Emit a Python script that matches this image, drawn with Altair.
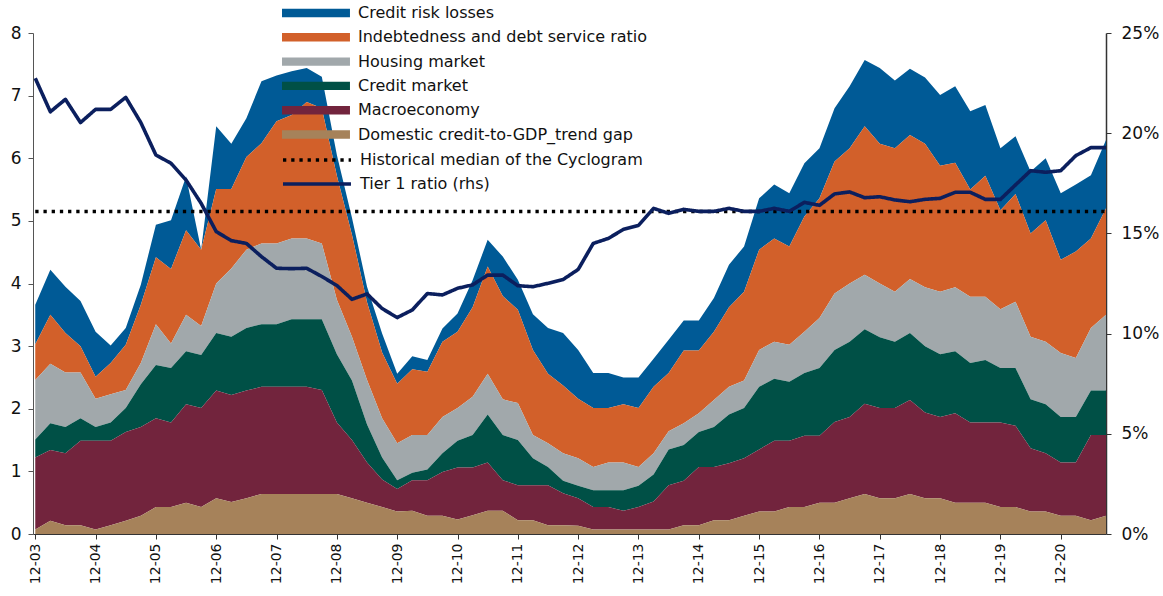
import altair as alt
import pandas as pd

# ---------------- data (quarterly, 2003Q4 .. 2021Q3) ----------------
n_q = 72
tick_labels = ["12-03", "12-04", "12-05", "12-06", "12-07", "12-08", "12-09", "12-10", "12-11",
               "12-12", "12-13", "12-14", "12-15", "12-16", "12-17", "12-18", "12-19", "12-20"]

credit_gap = [.07, .21, .14, .14, .07, .14, .21, .29, .43, .43,
              .50, .43, .57, .51, .57, .64, .64, .64, .64, .64,
              .64, .57, .50, .43, .36, .37, .29, .29, .23, .30,
              .37, .37, .22, .22, .14, .14, .13, .07, .07, .07,
              .07, .07, .07, .14, .14, .22, .22, .29, .36, .36,
              .43, .43, .50, .50, .57, .64, .57, .57, .64, .57,
              .57, .50, .50, .50, .43, .43, .36, .36, .29, .29,
              .22, .29]

macroeconomy = [1.15, 1.13, 1.15, 1.35, 1.42, 1.35, 1.42, 1.42, 1.42, 1.35,
                1.57, 1.58, 1.72, 1.71, 1.72, 1.71, 1.71, 1.71, 1.71, 1.66,
                1.14, .93, .64, .44, .36, .49, .57, .70, .83, .76,
                .77, .49, .56, .56, .64, .51, .44, .36, .36, .30,
                .36, .45, .71, .71, .93, .85, .91, .92, .99, 1.13,
                1.06, 1.14, 1.07, 1.29, 1.30, 1.44, 1.44, 1.44, 1.50, 1.37,
                1.30, 1.43, 1.28, 1.28, 1.35, 1.30, 1.01, .93, .85, .85,
                1.36, 1.29]

credit_market = [.29, .43, .42, .36, .22, .29, .38, .68, .85, .87,
                 .85, .85, .92, .93, 1.00, 1.00, 1.00, 1.08, 1.08, 1.13,
                 1.09, .95, .61, .35, .14, .12, .17, .30, .43, .52,
                 .77, .72, .72, .43, .29, .20, .20, .27, .27, .33,
                 .34, .43, .57, .57, .56, .64, .78, .80, 1.00, .99,
                 .94, 1.00, 1.08, 1.15, 1.20, 1.19, 1.13, 1.06, 1.07, 1.06,
                 1.00, .99, .95, 1.00, .87, .92, .78, .78, .73, .73,
                 .71, .71]

housing_market = [.95, .95, .87, .73, .45, .45, .29, .34, .65, .39,
                  .58, .46, .79, 1.09, 1.25, 1.29, 1.29, 1.29, 1.29, 1.21,
                  .87, .70, .71, .63, .59, .60, .55, .58, .52, .61,
                  .65, .57, .59, .37, .38, .44, .44, .37, .44, .44,
                  .30, .34, .29, .35, .30, .43, .44, .44, .59, .59,
                  .59, .66, .80, .90, .93, .87, .86, .80, .86, .94,
                  1.00, 1.02, 1.06, 1.01, .94, 1.06, 1.00, 1.00, 1.02, .94,
                  1.00, 1.21]

indebtedness = [.57, .78, .63, .42, .35, .50, .72, .93, 1.07, 1.19,
                1.35, 1.22, 1.51, 1.27, 1.48, 1.60, 1.95, 1.97, 2.18, 2.16,
                1.98, 1.63, 1.24, 1.05, .95, 1.05, 1.01, 1.20, 1.22, 1.43,
                1.71, 1.65, 1.49, 1.36, 1.11, 1.08, .95, .94, .87, .93,
                .94, 1.06, .93, 1.16, 1.00, 1.09, 1.27, 1.42, 1.60, 1.65,
                1.57, 1.84, 1.91, 2.11, 2.16, 2.37, 2.23, 2.29, 2.30, 2.29,
                2.01, 1.99, 1.71, 1.93, 1.58, 1.72, 1.65, 1.94, 1.49, 1.70,
                1.43, 1.70]

credit_risk = [.63, .72, .74, .72, .72, .28, .27, .32, .52, .78,
               .86, 0.0, 1.00, .72, .62, .99, .73, .70, .54, .50,
               .33, .27, .25, .30, .16, .21, .19, .21, .29, .43,
               .43, .63, .48, .57, .73, .84, .78, .56, .56, .43,
               .49, .45, .53, .48, .48, .54, .68, .72, .82, .86,
               .85, .85, .80, .85, .99, 1.06, 1.21, 1.08, 1.06, 1.06,
               1.13, 1.22, 1.25, 1.13, .99, .92, .99, .99, 1.06, 1.07,
               1.01, 1.09]

tier1_ratio = [22.74, 21.07, 21.69, 20.53, 21.19, 21.19, 21.79, 20.53, 18.91, 18.50,
               17.66, 16.50, 15.09, 14.64, 14.50, 13.84, 13.26, 13.24, 13.26, 12.85,
               12.40, 11.71, 11.98, 11.25, 10.80, 11.18, 12.00, 11.93, 12.26, 12.43,
               12.92, 12.92, 12.39, 12.34, 12.51, 12.70, 13.20, 14.50, 14.75, 15.20,
               15.40, 16.25, 16.00, 16.20, 16.10, 16.10, 16.25, 16.10, 16.10, 16.25,
               16.10, 16.55, 16.40, 16.97, 17.07, 16.78, 16.83, 16.67, 16.58, 16.70,
               16.75, 17.05, 17.05, 16.70, 16.70, 17.42, 18.13, 18.05, 18.13, 18.88,
               19.28, 19.28]

historical_median = 5.15

# legend order (top to bottom) and colours
series_names = ["Credit risk losses", "Indebtedness and debt service ratio", "Housing market",
                "Credit market", "Macroeconomy", "Domestic credit-to-GDP_trend gap"]
series_values = [credit_risk, indebtedness, housing_market, credit_market, macroeconomy, credit_gap]
series_colors = ["#005A96", "#D2602A", "#A1A8AB", "#005046", "#72243D", "#A6825A"]
line_names = ["Historical median of the Cyclogram", "Tier 1 ratio (rhs)"]
line_colors = ["#000000", "#0B1F5E"]

# ---------------- tables ----------------
rows = []
for k, (name, vals) in enumerate(zip(series_names, series_values)):
    stack_pos = len(series_names) - 1 - k  # bottom of stack = last in legend
    for q, v in enumerate(vals):
        rows.append({"q": q, "series": name, "value": v, "stack": stack_pos})
area_df = pd.DataFrame(rows)

median_df = pd.DataFrame({"q": [0, n_q - 1], "value": [historical_median] * 2, "line": [line_names[0]] * 2})
tier_df = pd.DataFrame({"q": list(range(n_q)), "v": tier1_ratio, "line": [line_names[1]] * n_q})

FONT = "DejaVu Sans"
label_expr = "[" + ",".join("'%s'" % t for t in tick_labels) + "][round(datum.value/4)]"

x_scale = alt.Scale(domain=[-0.15, n_q - 1], nice=False, zero=False)
x_axis = alt.Axis(values=list(range(0, 4 * len(tick_labels), 4)), labelExpr=label_expr, labelAngle=270,
                  title=None, grid=False, labelFontSize=14, labelPadding=4, tickSize=5,
                  domainColor="#333333", tickColor="#333333", labelColor="#111111", labelFont=FONT)
y_left_scale = alt.Scale(domain=[0, 8], nice=False)
y_left_axis = alt.Axis(values=list(range(9)), title=None, grid=False, orient="left",
                       labelFontSize=17, labelFont=FONT, labelPadding=7, tickSize=5,
                       domainColor="#555555", tickColor="#555555", labelColor="#111111")

rect_path = "M-1,-0.6L8.71,-0.6L8.71,0.6L-1,0.6Z"
line_path = "M-1,0L8.71,0"

fill_legend = alt.Legend(title=None, orient="none", legendX=248, legendY=-28, symbolType=rect_path,
                         symbolSize=196, symbolStrokeWidth=0, labelFontSize=16, labelFont=FONT,
                         labelColor="#111111", labelOffset=61, rowPadding=8.3, padding=0, labelLimit=500)
line_legend = alt.Legend(title=None, orient="none", legendX=248, legendY=118, symbolType=line_path,
                         symbolSize=196, symbolStrokeWidth=3.4, labelFontSize=16, labelFont=FONT,
                         labelColor="#111111", labelOffset=61, rowPadding=7, padding=0, labelLimit=500)

stroke_scale = alt.Scale(domain=line_names, range=line_colors)
dash_scale = alt.Scale(domain=line_names, range=[[3.3, 4.9], [1, 0]])

areas = alt.Chart(area_df).mark_area(strokeWidth=0, opacity=1).encode(
    x=alt.X("q:Q", scale=x_scale, axis=x_axis),
    y=alt.Y("value:Q", stack="zero", scale=y_left_scale, axis=y_left_axis),
    fill=alt.Fill("series:N", scale=alt.Scale(domain=series_names, range=series_colors), legend=fill_legend),
    order=alt.Order("stack:Q", sort="ascending"),
)

median = alt.Chart(median_df).mark_line(strokeWidth=3.4, strokeCap="butt").encode(
    x=alt.X("q:Q", scale=x_scale, axis=x_axis),
    y=alt.Y("value:Q", scale=y_left_scale, axis=y_left_axis),
    stroke=alt.Stroke("line:N", scale=stroke_scale, legend=line_legend),
    strokeDash=alt.StrokeDash("line:N", scale=dash_scale, legend=line_legend),
)

tier = alt.Chart(tier_df).mark_line(strokeWidth=3.6, strokeJoin="round").encode(
    x=alt.X("q:Q", scale=x_scale, axis=x_axis),
    y=alt.Y("v:Q", scale=alt.Scale(domain=[0, 25], nice=False),
            axis=alt.Axis(values=[0, 5, 10, 15, 20, 25], labelExpr="datum.value + '%'", title=None,
                          grid=False, orient="right", labelFontSize=17, labelFont=FONT, labelPadding=10,
                          tickSize=5, domainColor="#333333", tickColor="#333333", labelColor="#111111",
                          domainWidth=1.5)),
    stroke=alt.Stroke("line:N", scale=stroke_scale, legend=line_legend),
    strokeDash=alt.StrokeDash("line:N", scale=dash_scale, legend=line_legend),
)

left = alt.layer(areas, median)
chart = alt.layer(left, tier).resolve_scale(y="independent").properties(
    width=1073, height=501,
    padding={"left": 33, "top": 33, "right": 57, "bottom": 62},
    autosize=alt.AutoSizeParams(type="none"),
    background="white",
).configure_view(stroke=None)

chart.save("out.html", embed_options={"renderer": "svg", "actions": False})
